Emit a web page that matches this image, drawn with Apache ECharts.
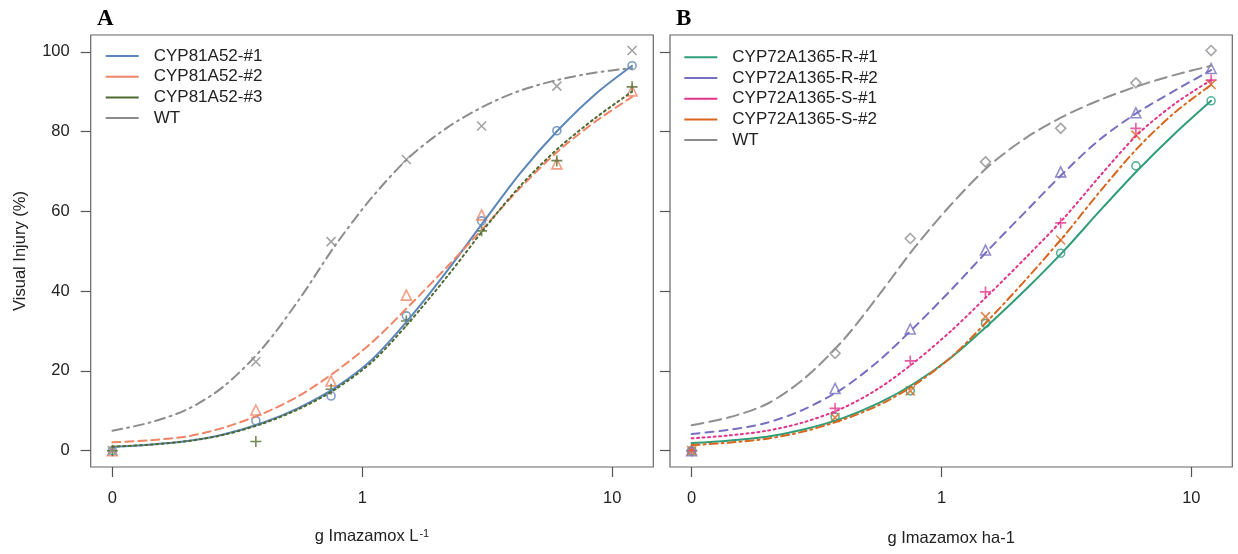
<!DOCTYPE html>
<html><head><meta charset="utf-8">
<script src="https://cdn.jsdelivr.net/npm/echarts@6/dist/echarts.min.js"></script>
<style>html,body{margin:0;padding:0;background:#fff}#c{width:1238px;height:554px}</style>
</head><body><div id="c"></div>
<script>
// ---------- data ----------
const doses = [0, 0.375, 0.75, 1.5, 3, 6, 12];
const zeroDosePosition = 0.1;          // dose 0 drawn at 0.1 on the log axis
const curveX = [0.1, 0.14, 0.2, 0.28, 0.4, 0.56, 0.78, 1.1, 1.55, 2.2, 3.1, 4.3, 6.1, 8.6, 12];
const xTickValues = [0.1, 1, 10];
const xTickLabels = ['0', '1', '10'];
const yTickValues = [0, 20, 40, 60, 80, 100];

// Panel A
const namesA = ['CYP81A52-#1', 'CYP81A52-#2', 'CYP81A52-#3', 'WT'];
const obsA1 = [0, 7.5, 13.7, 33.8, 57.6, 80.2, 96.5];
const obsA2 = [0, 10.2, 17.5, 39.0, 59.1, 71.9, 90.2];
const obsA3 = [0, 2.3, 15.4, 32.5, 55.1, 72.7, 91.2];
const obsAWT = [0, 22.3, 52.4, 73.0, 81.4, 91.4, 100.3];
const fitA1 = [1.0, 1.5, 2.4, 4.1, 7.0, 10.8, 15.8, 23.0, 33.3, 45.3, 57.9, 69.7, 80.5, 89.5, 96.5];
const fitA2 = [2.1, 2.6, 3.6, 5.8, 9.3, 13.8, 19.8, 27.3, 36.5, 46.3, 56.3, 66.0, 75.2, 82.6, 88.7];
const fitA3 = [1.0, 1.5, 2.4, 4.0, 6.8, 10.5, 15.4, 22.4, 32.4, 43.9, 55.9, 66.5, 75.9, 83.5, 90.0];
const fitAWT = [5.0, 7.0, 10.4, 16.2, 25.8, 38.0, 51.5, 63.7, 73.7, 81.1, 86.5, 90.3, 93.0, 94.8, 95.9];

// Panel B
const namesB = ['CYP72A1365-R-#1', 'CYP72A1365-R-#2', 'CYP72A1365-S-#1', 'CYP72A1365-S-#2', 'WT'];
const obsB1 = [0, 8.5, 15.0, 31.9, 49.5, 71.4, 87.7];
const obsB2 = [0, 15.6, 30.5, 50.3, 69.9, 84.7, 95.8];
const obsB3 = [0, 10.6, 22.5, 39.8, 57.1, 80.8, 92.9];
const obsB4 = [0, 8.3, 15.0, 33.6, 52.8, 79.1, 91.8];
const obsBWT = [0, 24.4, 53.2, 72.4, 80.8, 92.2, 100.3];
const fitB1 = [1.9, 2.5, 3.5, 5.3, 8.1, 11.9, 16.9, 23.5, 31.7, 40.7, 50.2, 60.1, 70.3, 79.5, 87.7];
const fitB2 = [4.2, 5.2, 7.0, 10.3, 15.5, 22.5, 31.0, 40.5, 50.5, 60.3, 69.8, 78.0, 84.8, 90.3, 95.4];
const fitB3 = [3.1, 3.8, 5.0, 7.1, 10.6, 15.6, 22.2, 30.2, 39.2, 48.7, 58.4, 68.8, 79.3, 87.0, 92.9];
const fitB4 = [1.4, 2.0, 3.0, 4.8, 7.7, 11.4, 16.5, 23.6, 32.9, 43.2, 53.9, 64.9, 75.9, 84.8, 91.7];
const fitBWT = [6.4, 8.3, 11.7, 17.9, 27.4, 38.9, 50.9, 61.9, 71.4, 78.6, 83.9, 87.9, 91.4, 94.2, 96.5];

// ---------- styles ----------
const FONT = 'Liberation Sans, Arial, sans-serif';
const PLUS = 'path://M5,0L5,10M0,5L10,5';
const CROSS = 'path://M0,0L10,10M10,0L0,10';
const groups = [
  {panel: 0, name: namesA[0], obs: obsA1, fit: fitA1, color: '#5b86b8', dash: 'solid', symbol: 'circle', size: 8},
  {panel: 0, name: namesA[1], obs: obsA2, fit: fitA2, color: '#f08466', dash: [8, 5], symbol: 'triangle', size: 10},
  {panel: 0, name: namesA[2], obs: obsA3, fit: fitA3, color: '#4f6a30', dash: [2, 3.5], symbol: PLUS, size: 11},
  {panel: 0, name: namesA[3], obs: obsAWT, fit: fitAWT, color: '#8c8c8c', dash: [10, 5, 2, 5], symbol: CROSS, size: 9},
  {panel: 1, name: namesB[0], obs: obsB1, fit: fitB1, color: '#2f9e78', dash: 'solid', symbol: 'circle', size: 8},
  {panel: 1, name: namesB[1], obs: obsB2, fit: fitB2, color: '#7770c0', dash: [8, 6], symbol: 'triangle', size: 10},
  {panel: 1, name: namesB[2], obs: obsB3, fit: fitB3, color: '#e2338a', dash: [2, 3.5], symbol: PLUS, size: 11},
  {panel: 1, name: namesB[3], obs: obsB4, fit: fitB4, color: '#d9661f', dash: [8, 4, 2, 4], symbol: CROSS, size: 9},
  {panel: 1, name: namesB[4], obs: obsBWT, fit: fitBWT, color: '#8f8f8f', dash: [12, 6], symbol: 'diamond', size: 10}
];

const series = [];
groups.forEach(g => {
  series.push({
    type: 'line', name: g.name, xAxisIndex: g.panel, yAxisIndex: g.panel,
    data: curveX.map((x, i) => [x, g.fit[i]]),
    smooth: 0.3, showSymbol: false, color: g.color,
    lineStyle: {color: g.color, width: 2, type: g.dash, cap: 'round'},
    z: 3, silent: true
  });
  series.push({
    type: 'scatter', name: g.name + ' (obs)', xAxisIndex: g.panel, yAxisIndex: g.panel,
    data: doses.map((d, i) => [d === 0 ? zeroDosePosition : d, g.obs[i]]),
    symbol: g.symbol, symbolSize: g.size, symbolKeepAspect: true,
    itemStyle: {color: 'rgba(0,0,0,0)', borderColor: g.color, borderWidth: 1.6},
    z: 2, silent: true
  });
});

function xAxis(idx, name, gap) {
  return {
    type: 'log', logBase: 10, gridIndex: idx, min: 0.0819, max: 14.59,
    axisLine: {show: false, onZero: false},
    axisTick: {show: true, customValues: xTickValues, length: 10, lineStyle: {color: '#555', width: 1.2}},
    axisLabel: {customValues: xTickValues, margin: 23, fontSize: 16.5, color: '#222', fontFamily: FONT,
      formatter: v => { const k = xTickValues.findIndex(t => Math.abs(Math.log10(t) - Math.log10(v)) < 1e-6); return k >= 0 ? xTickLabels[k] : ''; }},
    splitLine: {show: false},
    name: name, nameLocation: 'middle', nameGap: gap,
    nameTextStyle: {fontSize: 16.5, color: '#222', fontFamily: FONT,
      rich: {sup: {fontSize: 11, color: '#222', fontFamily: FONT, verticalAlign: 'top', padding: [0, 0, 6, 1]}}}
  };
}
function yAxis(idx, showLabels) {
  return {
    type: 'value', gridIndex: idx, min: -4.09, max: 104.2,
    axisLine: {show: false, onZero: false},
    axisTick: {show: true, customValues: yTickValues, length: 10, lineStyle: {color: '#555', width: 1.2}},
    axisLabel: {show: showLabels, customValues: yTickValues, margin: 21, fontSize: 16.5, color: '#222', fontFamily: FONT},
    splitLine: {show: false},
    name: showLabels ? 'Visual Injury (%)' : '', nameLocation: 'middle', nameGap: 62,
    nameTextStyle: {fontSize: 16.5, color: '#222', fontFamily: FONT}
  };
}
function legend(names, left, top) {
  return {
    data: names, orient: 'vertical', left: left, top: top, icon: 'rect',
    itemWidth: 33, itemHeight: 2, itemGap: 3.7, selectedMode: false, padding: 0,
    textStyle: {fontSize: 17, color: '#222', fontFamily: FONT, padding: [0, 0, 0, 10]}
  };
}

const option = {
  animation: false,
  backgroundColor: '#fff',
  title: [
    {text: 'A', left: 97, top: 8, padding: 0, textStyle: {fontFamily: 'Liberation Serif, Times New Roman, serif', fontWeight: 'bold', fontSize: 23, color: '#000'}},
    {text: 'B', left: 676, top: 8, padding: 0, textStyle: {fontFamily: 'Liberation Serif, Times New Roman, serif', fontWeight: 'bold', fontSize: 23, color: '#000'}}
  ],
  legend: [legend(namesA, 105.7, 47.5), legend(namesB, 684.3, 48.8)],
  grid: [
    {left: 90.7, top: 35, width: 562.6, height: 432, show: true, borderColor: '#666', borderWidth: 1.2, backgroundColor: 'transparent'},
    {left: 670, top: 35, width: 562.3, height: 432, show: true, borderColor: '#666', borderWidth: 1.2, backgroundColor: 'transparent'}
  ],
  xAxis: [xAxis(0, 'g Imazamox L{sup|-1}', 61), xAxis(1, 'g Imazamox ha-1', 62.5)],
  yAxis: [yAxis(0, true), yAxis(1, false)],
  series: series
};
const chart = echarts.init(document.getElementById('c'), null, {renderer: 'canvas'});
chart.setOption(option);
</script>
</body></html>
